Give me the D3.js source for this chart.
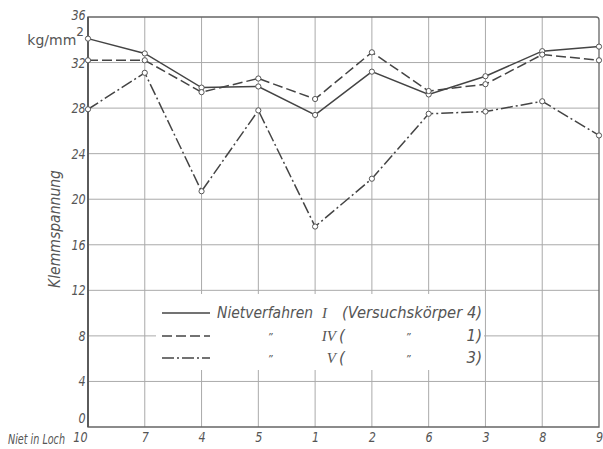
<!DOCTYPE html>
<html><head><meta charset="utf-8">
<script src="https://cdn.jsdelivr.net/npm/d3@7"></script>
<style>
body{margin:0;background:#fff;}
svg text{font-family:"DejaVu Sans",sans-serif;font-style:italic;fill:#555;}
</style></head>
<body><svg id="c" width="603" height="449"></svg>
<script>
const categories = ["10","7","4","5","1","2","6","3","8","9"];
const seriesI  = [34.1,32.8,29.8,29.9,27.4,31.2,29.2,30.8,33.0,33.4];
const seriesIV = [32.2,32.2,29.4,30.6,28.8,32.9,29.5,30.1,32.7,32.2];
const seriesV  = [27.9,31.1,20.7,27.8,17.6,21.8,27.5,27.7,28.6,25.6];
const yTicks = [0,4,8,12,16,20,24,28,32,36];
const legendLabels = [
  {a:"Nietverfahren", b:"I", c:"(Versuchskörper 4)"},
  {a:"\u201D", b:"IV", c:"(", d:"\u201D", e:"1)"},
  {a:"\u201D", b:"V", c:"(", d:"\u201D", e:"3)"}
];

const svg = d3.select("#c");
const L=88, R=599, T=17, B=427;
const x = d3.scalePoint().domain(categories).range([L,R]);
const y = d3.scaleLinear().domain([0,36]).range([B,T]);

// grid
const g = svg.append("g");
g.selectAll(".hg").data(yTicks.filter(d=>d>0&&d<36)).join("line")
  .attr("x1",L).attr("x2",R).attr("y1",d=>y(d)).attr("y2",d=>y(d))
  .attr("stroke","#aaa").attr("stroke-width",1);
g.selectAll(".vg").data(categories.slice(1,-1)).join("line")
  .attr("x1",d=>x(d)).attr("x2",d=>x(d)).attr("y1",T).attr("y2",B)
  .attr("stroke","#aaa").attr("stroke-width",1);

// legend white box (covers grid)
svg.append("rect").attr("x",156).attr("y",294).attr("width",328).attr("height",76).attr("fill","#fff");

// frame
svg.append("path").attr("d",`M${L},${B}H${R}V${T+3}Q${R},${T} ${R-3},${T}H${L}Z`)
  .attr("fill","none").attr("stroke","#666").attr("stroke-width",1.3);
svg.append("line").attr("x1",L).attr("x2",L).attr("y1",T).attr("y2",B).attr("stroke","#555").attr("stroke-width",1.8);

// axes (tick labels)
const yAxis = d3.axisLeft(y).tickValues(yTicks).tickSize(0).tickPadding(3);
const ya = svg.append("g").attr("transform",`translate(${L},0)`).call(yAxis);
ya.select(".domain").remove();
ya.selectAll("text").style("font-size","14px").attr("fill","#555").attr("transform","scale(0.8,1)");
ya.selectAll(".tick text").filter(d=>d===0).attr("dy","-0.35em");
ya.selectAll(".tick text").filter(d=>d===36).attr("dy","0.2em");

const xAxis = d3.axisBottom(x).tickSize(0).tickPadding(5);
const xa = svg.append("g").attr("transform",`translate(0,${B})`).call(xAxis);
xa.select(".domain").remove();
xa.selectAll("text").style("font-size","14px").attr("fill","#555").attr("transform","scale(0.8,1)");
xa.selectAll(".tick text").filter(d=>d==="10").attr("text-anchor","start").attr("dx","-19");

svg.append("text").attr("x",8).attr("y",444).style("font-size","14px")
  .attr("textLength",57).attr("lengthAdjust","spacingAndGlyphs").text("Niet in Loch");
svg.append("text").attr("transform","translate(60,229) rotate(-90)").attr("text-anchor","middle").style("font-size","15px")
  .attr("textLength",118).attr("lengthAdjust","spacingAndGlyphs").text("Klemmspannung");
const unit = svg.append("text").attr("x",84).attr("y",45).attr("text-anchor","end").style("font-size","14px").style("font-style","normal");
unit.append("tspan").text("kg/mm");
unit.append("tspan").attr("dy","-9").style("font-size","12px").text("2");

// series
const series = [
  {v:seriesI, dash:null},
  {v:seriesIV, dash:"10,4"},
  {v:seriesV, dash:"12,3,2,3"}
];
const line = d3.line().x((d,i)=>x(categories[i])).y(d=>y(d));
series.forEach(s=>{
  svg.append("path").datum(s.v).attr("d",line).attr("fill","none")
    .attr("stroke","#444").attr("stroke-width",1.5).attr("stroke-dasharray",s.dash);
});
series.forEach(s=>{
  svg.append("g").selectAll("circle").data(s.v).join("circle")
    .attr("cx",(d,i)=>x(categories[i])).attr("cy",d=>y(d)).attr("r",2.6)
    .attr("fill","#fff").attr("stroke","#555").attr("stroke-width",1);
});

// legend
const rowsY=[313,336,358];
series.forEach((s,i)=>{
  svg.append("line").attr("x1",162).attr("x2",210).attr("y1",rowsY[i]).attr("y2",rowsY[i])
    .attr("stroke","#444").attr("stroke-width",1.5).attr("stroke-dasharray",s.dash);
});
const fs="15px";
const serif="Liberation Serif,serif";
svg.append("text").attr("x",217).attr("y",rowsY[0]+5).style("font-size",fs)
  .attr("textLength",96).attr("lengthAdjust","spacingAndGlyphs").text(legendLabels[0].a);
svg.append("text").attr("x",322).attr("y",rowsY[0]+5).style("font-size",fs).style("font-family",serif).text(legendLabels[0].b);
svg.append("text").attr("x",342).attr("y",rowsY[0]+5).style("font-size",fs)
  .attr("textLength",140).attr("lengthAdjust","spacingAndGlyphs").text(legendLabels[0].c);
[1,2].forEach(i=>{
  const l=legendLabels[i], yy=rowsY[i]+5;
  svg.append("text").attr("x",270).attr("y",yy).attr("text-anchor","middle").style("font-size","10px").text(l.a);
  svg.append("text").attr("x",336).attr("y",yy).attr("text-anchor","end").style("font-size",fs).style("font-family",serif).text(l.b);
  svg.append("text").attr("x",339).attr("y",yy).style("font-size",fs).text(l.c);
  svg.append("text").attr("x",408).attr("y",yy).attr("text-anchor","middle").style("font-size","10px").text(l.d);
  svg.append("text").attr("x",482).attr("y",yy).attr("text-anchor","end").style("font-size",fs).text(l.e);
});
</script></body></html>
